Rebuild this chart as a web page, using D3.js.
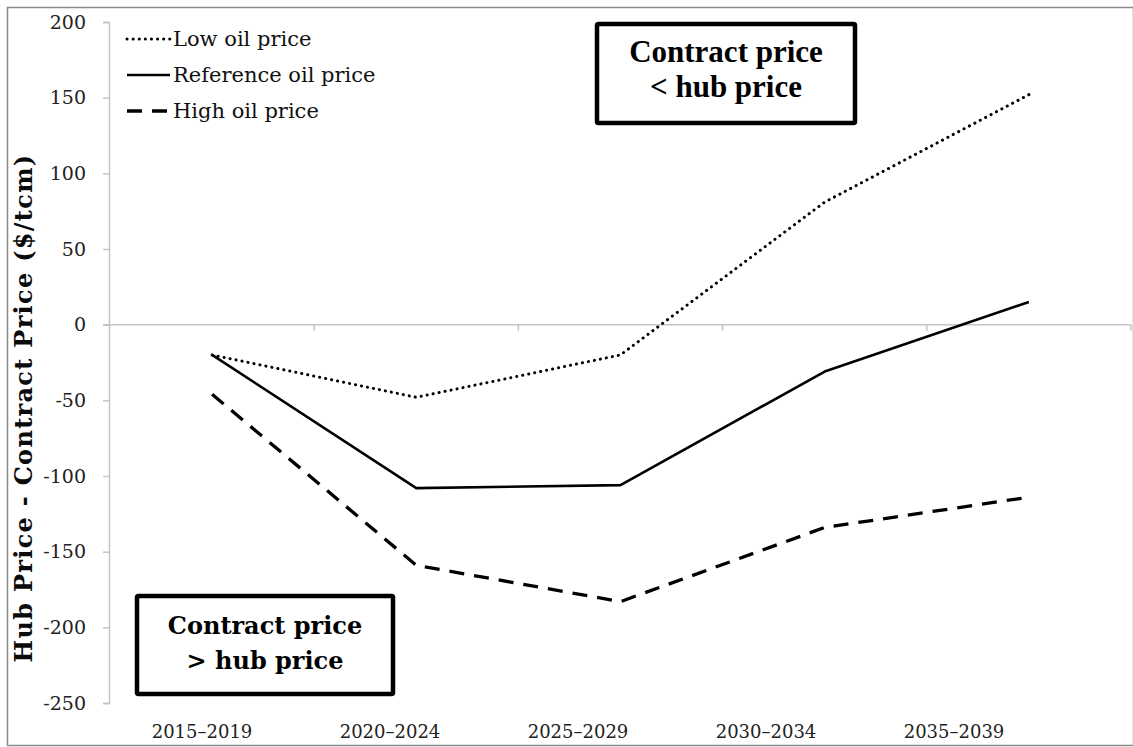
<!DOCTYPE html>
<html>
<head>
<meta charset="utf-8">
<script src="https://cdn.jsdelivr.net/npm/d3@7"></script>
<style>
  body { margin: 0; background: #fff; }
  text { font-family: "DejaVu Serif", Georgia, serif; }
</style>
</head>
<body>
<div id="chart"></div>
<script>
// Data
var periods = ["2015\u20132019", "2020\u20132024", "2025\u20132029", "2030\u20132034", "2035\u20132039"];
var lowOil = [-20, -48, -20, 81, 152];
var refOil = [-20, -108, -106, -31, 15];
var highOil = [-46, -159, -183, -134, -114];
var yTicks = [-250, -200, -150, -100, -50, 0, 50, 100, 150, 200];
var seriesNames = ["Low oil price", "Reference oil price", "High oil price"];

var width = 1133, height = 747;

var svg = d3.select("#chart").append("svg")
    .attr("width", width).attr("height", height);

// outer frame
svg.append("rect")
    .attr("x", 7.5).attr("y", 7.5)
    .attr("width", width - 7).attr("height", height - 9)
    .attr("fill", "none").attr("stroke", "#8a8a8a").attr("stroke-width", 1.5);

var x = d3.scaleBand().domain(periods).range([110, 1131]);
var xLabel = d3.scaleBand().domain(periods).range([108, 1048]);
var y = d3.scaleLinear().domain([-250, 200]).range([703, 22]);

// y axis
var yAxis = svg.append("g")
    .attr("transform", "translate(109,0)")
    .call(d3.axisLeft(y).tickValues(yTicks).tickSize(6).tickPadding(17).tickFormat(d3.format("d")));
yAxis.select(".domain").attr("stroke", "#c4c4c4").attr("stroke-width", 1.5);
yAxis.selectAll(".tick line").attr("stroke", "#c4c4c4").attr("stroke-width", 1.5);
yAxis.selectAll(".tick text")
    .attr("fill", "#222").style("font-size", "19px")
    .style("font-family", "'DejaVu Serif', serif")
    .text(function(d) { return d < 0 ? "-" + Math.abs(d) : d; });

// zero axis with band ticks
var xAxis = svg.append("g")
    .attr("transform", "translate(0," + y(0) + ")")
    .call(d3.axisBottom(x).tickSize(0).tickFormat(""));
xAxis.select(".domain").attr("stroke", "#c4c4c4").attr("stroke-width", 1.5)
    .attr("d", "M103,0H1131");
xAxis.selectAll(".bandtick")
    .data(periods)
    .enter().append("line")
    .attr("class", "bandtick")
    .attr("x1", function(d) { return x(d) + x.bandwidth(); })
    .attr("x2", function(d) { return x(d) + x.bandwidth(); })
    .attr("y1", 0).attr("y2", 6)
    .attr("stroke", "#c4c4c4").attr("stroke-width", 1.5);

// category labels along the bottom
svg.append("g")
    .selectAll("text")
    .data(periods)
    .enter().append("text")
    .attr("x", function(d) { return xLabel(d) + xLabel.bandwidth() / 2; })
    .attr("y", 738)
    .attr("text-anchor", "middle")
    .style("font-size", "18px")
    .attr("fill", "#222")
    .text(function(d) { return d; });

// y axis title
svg.append("text")
    .attr("transform", "translate(32,408) rotate(-90)")
    .attr("text-anchor", "middle")
    .style("font-size", "24px")
    .style("font-weight", "bold")
    .style("letter-spacing", "1.3px")
    .attr("fill", "#0a0a0a")
    .text("Hub Price - Contract Price ($/tcm)");

// lines
var line = d3.line()
    .x(function(d, i) { return x(periods[i]) + x.bandwidth() / 2; })
    .y(function(d) { return y(d); });

var styles = [
    { data: lowOil, dash: "0.1,6", width: 3, cap: "round" },
    { data: refOil, dash: null, width: 2.6, cap: "butt" },
    { data: highOil, dash: "15,10", width: 3.3, cap: "butt" }
];

styles.forEach(function(s) {
    svg.append("path")
        .datum(s.data)
        .attr("d", line)
        .attr("fill", "none")
        .attr("stroke", "#000")
        .attr("stroke-width", s.width)
        .attr("stroke-linecap", s.cap)
        .attr("stroke-linejoin", "round")
        .attr("stroke-dasharray", s.dash);
});

// legend
var legend = svg.append("g");
seriesNames.forEach(function(name, i) {
    var ly = 39 + i * 36;
    var s = styles[i];
    legend.append("line")
        .attr("x1", 127).attr("x2", 170)
        .attr("y1", ly).attr("y2", ly)
        .attr("stroke", "#000")
        .attr("stroke-width", s.width)
        .attr("stroke-linecap", s.cap)
        .attr("stroke-dasharray", s.dash);
    legend.append("text")
        .attr("x", 173).attr("y", ly + 7)
        .style("font-size", "21px")
        .attr("fill", "#111")
        .text(name);
});

// annotation boxes
function noteBox(x0, y0, w, h, lines, font, size) {
    var g = svg.append("g");
    g.append("rect")
        .attr("x", x0).attr("y", y0).attr("width", w).attr("height", h)
        .attr("fill", "#fff").attr("stroke", "#000").attr("stroke-width", 4.5)
        .attr("rx", 1.5);
    lines.forEach(function(t, i) {
        g.append("text")
            .attr("x", x0 + w / 2)
            .attr("y", y0 + 38 + i * 35)
            .attr("text-anchor", "middle")
            .style("font-family", font)
            .style("font-size", size)
            .style("font-weight", "bold")
            .attr("fill", "#000")
            .text(t);
    });
}
noteBox(597, 24, 258, 99, ["Contract price", "< hub price"], "'Liberation Serif', serif", "31px");
noteBox(137, 596, 256, 98, ["Contract price", "> hub price"], "'DejaVu Serif', serif", "24px");
</script>
</body>
</html>
